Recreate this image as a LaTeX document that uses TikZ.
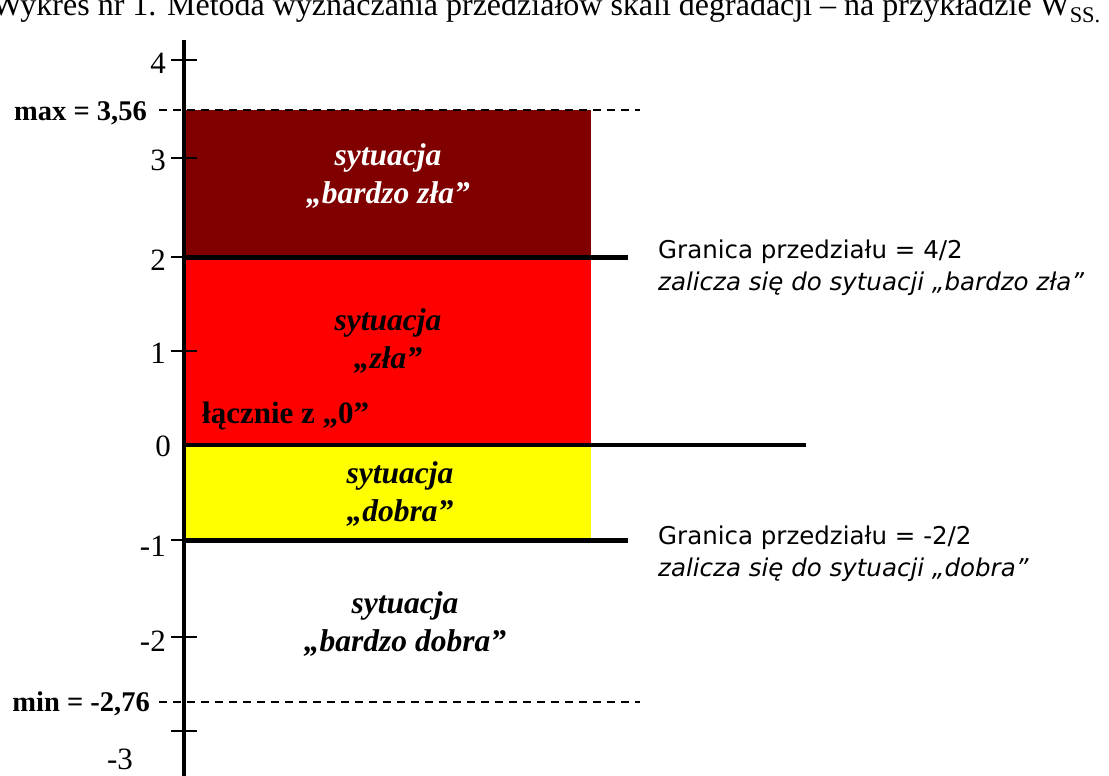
\documentclass[tikz,border=0pt]{standalone}
\usepackage{fontspec}
\setmainfont{Liberation Serif}
\newfontfamily\notefont{DejaVu Sans}
\usetikzlibrary{positioning}
\definecolor{bardzozla}{RGB}{128,0,0}
\definecolor{zla}{RGB}{255,0,0}
\definecolor{dobra}{RGB}{255,255,0}
\tikzset{
	axis/.style={line width=3.5pt},
	tickmark/.style={line width=2pt},
	limit/.style={line width=5pt},
	zero/.style={line width=3.5pt},
	guide/.style={line width=1.3pt, dash pattern=on 8pt off 6pt},
	num/.style={font=\fontsize{31}{36}\selectfont, inner sep=0pt},
	bound/.style={font=\bfseries\fontsize{28.5}{32}\selectfont, inner sep=0pt},
	area/.style={align=center, font=\bfseries\itshape\fontsize{31.5}{38}\selectfont, inner sep=0pt},
	note/.style={align=left, anchor=west, font=\notefont\fontsize{24.5}{32}\selectfont, inner sep=0pt}
}

\begin{document}
\begin{tikzpicture}[x=1pt, y={(0pt,-1pt)}]
\clip (0,0) rectangle (1109,776);
\node[anchor=base west, font=\fontsize{32}{36}\selectfont, inner sep=0pt] (title) at (-8,16) {Wykres nr 1. Metoda wyznaczania przedziałów skali degradacji – na przykładzie W\textsubscript{SS.}};

% coloured intervals
\fill[bardzozla] (185,110) rectangle (591,257);
\fill[zla] (185,257) rectangle (591,445);
\fill[dobra] (185,445) rectangle (591,540);

% scale
\draw[axis] (184,40) -- (184,780);
\foreach \v/\y in {4/60, 3/158, 2/257, 1/351, -1/540, -2/637, -3/731}
	\draw[tickmark] (171,\y) -- (197,\y);
\foreach \v/\y in {4/63, 3/160, 2/260, 1/353, -1/546, -2/641}
	\node[num, anchor=east] (lab\v) at (166,\y) {\v};
\node[num, anchor=east] (lab0) at (171,446) {0};
\node[num] (lab-3) at (120,759) {-3};

% limits
\draw[guide] (159,110) -- (640,110);
\draw[guide] (159,702) -- (640,702);
\node[bound, anchor=east] (max) at (147,113) {max = 3,56};
\node[bound, anchor=east] (min) at (150,704) {min = -2,76};

% interval boundaries
\draw[limit] (184,257) -- (628,257);
\draw[zero] (184,445) -- (806,445);
\draw[limit] (184,540) -- (628,540);

% interval names
\node[area, text=white] (bz) at (388,176) {sytuacja\\„bardzo zła”};
\node[area] (z) at (388,341) {sytuacja\\„zła”};
\node[area] (d) at (400,494) {sytuacja\\„dobra”};
\node[area] (bd) at (405,624) {sytuacja\\„bardzo dobra”};
\node[bound, anchor=west, font=\bfseries\fontsize{31}{34}\selectfont] (lacznie) at (202,416) {łącznie z „0”};

% notes
\node[note] (gr1) at (658,268) {Granica przedziału = 4/2\\\textit{zalicza się do sytuacji „bardzo zła”}};
\node[note] (gr2) at (658,554) {Granica przedziału = -2/2\\\textit{zalicza się do sytuacji „dobra”}};
\end{tikzpicture}
\end{document}
